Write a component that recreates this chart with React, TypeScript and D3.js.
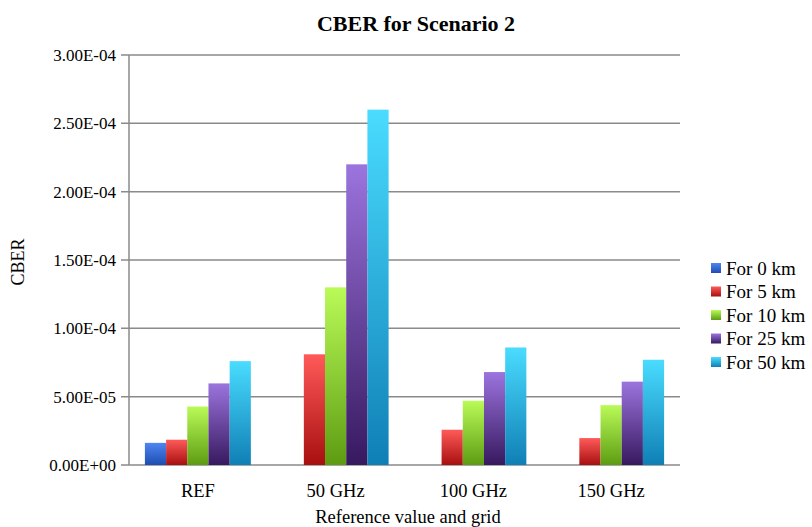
import React from "react"
import * as d3 from "d3"

// CBER values per grid
const categories = ["REF", "50 GHz", "100 GHz", "150 GHz"]
const seriesNames = ["For 0 km", "For 5 km", "For 10 km", "For 25 km", "For 50 km"]
const for0km = [1.62e-5, 0, 0, 0]
const for5km = [1.85e-5, 8.1e-5, 2.58e-5, 1.97e-5]
const for10km = [4.28e-5, 1.3e-4, 4.7e-5, 4.38e-5]
const for25km = [5.97e-5, 2.2e-4, 6.8e-5, 6.1e-5]
const for50km = [7.6e-5, 2.6e-4, 8.6e-5, 7.7e-5]
const yTicks = [0, 5e-5, 1e-4, 1.5e-4, 2e-4, 2.5e-4, 3e-4]

// top / bottom gradient colours per series
const colorsTop = ["#4f86f2", "#ff5a5a", "#bafb58", "#9c74de", "#4adcff"]
const colorsBottom = ["#1d4db0", "#a80f0f", "#5d9c12", "#37195f", "#0f7fb5"]

const seriesValues = [for0km, for5km, for10km, for25km, for50km]

const fmt = (v: number) => {
  const s = v.toExponential(2).toUpperCase() // e.g. 5.00E-5
  const m = s.match(/^(.*)E([+-])(\d+)$/)
  if (!m) return s
  return m[1] + "E" + m[2] + m[3].padStart(2, "0")
}

export default function App() {
  const W = 812, H = 527
  const margin = { top: 55, right: 132, bottom: 62, left: 129 }
  const innerW = W - margin.left - margin.right
  const innerH = H - margin.top - margin.bottom

  const x = d3.scaleBand().domain(categories).range([0, innerW]).paddingInner(0).paddingOuter(0)
  const bw = x.bandwidth() / (seriesNames.length + 1.5)
  const groupOffset = (x.bandwidth() - bw * seriesNames.length) / 2
  const y = d3.scaleLinear().domain([0, 3e-4]).range([innerH, 0])

  return (
    <svg width={W} height={H} style={{ position: "absolute", left: 0, top: 0, fontFamily: "Liberation Serif, Times New Roman, DejaVu Serif, serif" }}>
      <defs>
        {seriesNames.map((s, i) => (
          <linearGradient key={s} id={"grad" + i} x1="0" y1="0" x2="0" y2="1">
            <stop offset="0%" stopColor={colorsTop[i]} />
            <stop offset="100%" stopColor={colorsBottom[i]} />
          </linearGradient>
        ))}
      </defs>
      <rect width={W} height={H} fill="#fff" />
      <text x={416} y={31} textAnchor="middle" fontSize={22} fontWeight="bold">CBER for Scenario 2</text>

      <g transform={`translate(${margin.left},${margin.top})`}>
        {yTicks.map(t => (
          <g key={t}>
            <line x1={-8} x2={innerW} y1={y(t)} y2={y(t)} stroke="#8a8a8a" strokeWidth={1.5} />
            <text x={-13} y={y(t)} dy="0.35em" textAnchor="end" fontSize={17}>{fmt(t)}</text>
          </g>
        ))}
        <line x1={0} x2={0} y1={0} y2={innerH} stroke="#8a8a8a" strokeWidth={1.5} />

        {categories.map((c, ci) => (
          <g key={c} transform={`translate(${x(c)! + groupOffset},0)`}>
            {seriesValues.map((vals, si) => {
              const v = vals[ci]
              if (v <= 0) return null
              return (
                <rect key={si} x={si * bw} y={y(v)} width={bw} height={innerH - y(v)}
                  fill={`url(#grad${si})`} />
              )
            })}
          </g>
        ))}

        {categories.map(c => (
          <text key={c} x={x(c)! + x.bandwidth() / 2} y={innerH + 32} textAnchor="middle" fontSize={18.5}>{c}</text>
        ))}
      </g>

      <text transform={`translate(24,${margin.top + innerH / 2 + 2}) rotate(-90)`} textAnchor="middle" fontSize={18}>CBER</text>
      <text x={408} y={523} textAnchor="middle" fontSize={18.5}>Reference value and grid</text>

      <g transform="translate(711,268)">
        {seriesNames.map((s, i) => (
          <g key={s} transform={`translate(0,${i * 23.5})`}>
            <rect x={0} y={-5} width={10} height={10} fill={`url(#grad${i})`} />
            <text x={15} y={0} dy="0.35em" fontSize={19}>{s}</text>
          </g>
        ))}
      </g>
    </svg>
  )
}
